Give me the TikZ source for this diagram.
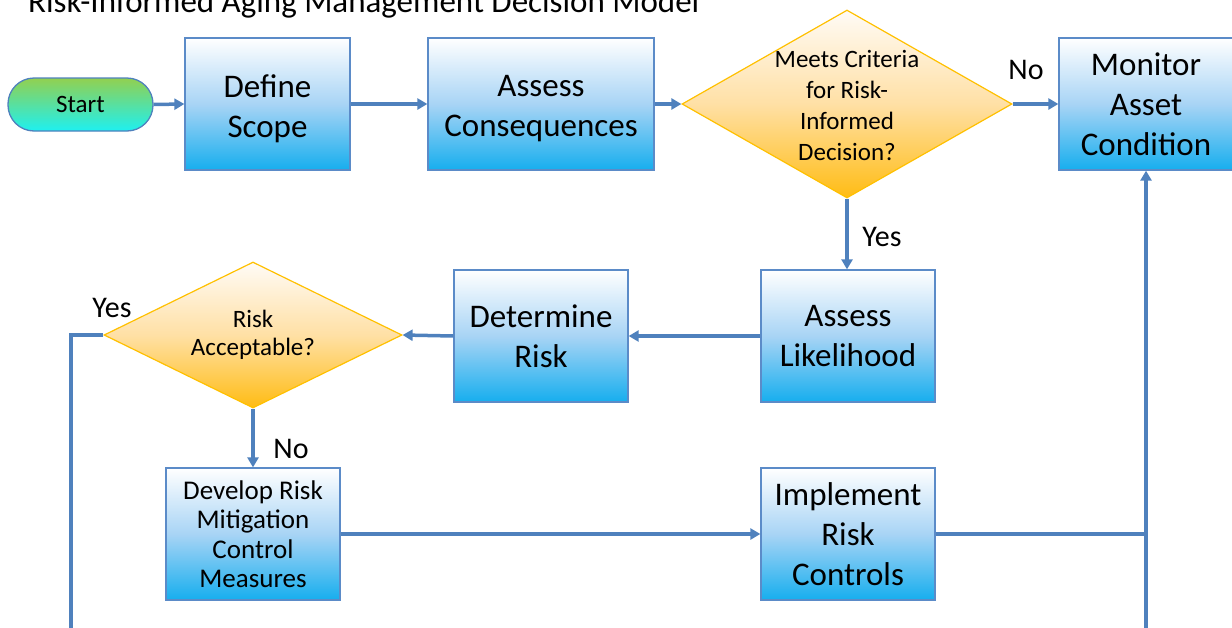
\documentclass[tikz,border=0pt]{standalone}
\usepackage{fontspec}
\setmainfont{Carlito}
\usetikzlibrary{shapes.geometric,arrows.meta}
\definecolor{conn}{RGB}{79,129,189}
\definecolor{boxborder}{RGB}{91,139,200}
\definecolor{boxbot}{RGB}{22,174,238}
\definecolor{boxmid}{RGB}{168,212,245}
\definecolor{diaborder}{RGB}{255,192,0}
\definecolor{diabot}{RGB}{255,188,20}
\definecolor{diamid}{RGB}{255,224,165}
\definecolor{diatop}{RGB}{255,251,246}
\definecolor{startop}{RGB}{146,208,80}
\definecolor{startbot}{RGB}{30,240,240}
\begin{document}
\begin{tikzpicture}[x=1pt,y=-1pt,
  boxtext/.style={align=center, inner sep=0pt, text=black, font=\fontsize{33}{40}\selectfont},
  box/.style={boxtext, draw=boxborder, line width=1.3pt, top color=white, bottom color=boxbot, middle color=boxmid,
    minimum height=132pt},
  dia/.style={diamond, draw=diaborder, line width=1.2pt, top color=diatop, bottom color=diabot, middle color=diamid, inner sep=0pt},
  diatext/.style={align=center, inner sep=0pt, font=\fontsize{25}{31}\selectfont},
  startnode/.style={draw=conn, line width=1.3pt, rounded corners=26pt, top color=startop, bottom color=startbot,
    minimum width=145pt, minimum height=53pt, inner sep=0pt, font=\fontsize{25}{30}\selectfont},
  lab/.style={inner sep=0pt, font=\fontsize{30}{36}\selectfont},
  link/.style={draw=conn, line width=3.5pt},
  conn/.style={link, -{Triangle[length=10pt,width=11pt]}}
]
\useasboundingbox (0,0) rectangle (1232,627);
\clip (0,0) rectangle (1232,627);

\node[anchor=base west, inner sep=0pt, font=\fontsize{33}{40}\selectfont] (title) at (28,12) {Risk-Informed Aging Management Decision Model};

\node[startnode] (start) at (80.5,104.5) {Start};
\node[box, minimum width=165pt] (define) at (267.5,104) {};
\node[boxtext] (definet) at (267.5,108.5) {Define\\Scope};
\node[box, minimum width=226pt] (assess) at (541,104) {};
\node[boxtext] (assesst) at (541,108.5) {Assess\\Consequences};
\node[dia, minimum width=330pt, minimum height=188pt] (d1) at (847,104) {};
\node[diatext] (d1t) at (847,105.5) {Meets Criteria\\for Risk-\\Informed\\Decision?};
\node[box, minimum width=174pt] (monitor) at (1146,104) {Monitor\\Asset\\Condition};
\node[box, minimum width=174pt] (likely) at (848,336) {Assess\\Likelihood};
\node[box, minimum width=174pt] (determine) at (541,336) {Determine\\Risk};
\node[dia, minimum width=298pt, minimum height=146pt] (d2) at (253,335) {};
\node[diatext, font=\fontsize{25}{28}\selectfont] (d2t) at (253,335) {Risk\\Acceptable?};
\node[box, minimum width=174pt, font=\fontsize{27}{29.5}\selectfont] (develop) at (253,534) {Develop Risk\\Mitigation\\Control\\Measures};
\node[box, minimum width=174pt] (implement) at (848,534) {Implement\\Risk\\Controls};

\node[lab] (no1) at (1026,70) {No};
\node[lab] (yes1) at (882,237) {Yes};
\node[lab] (yes2) at (112,308) {Yes};
\node[lab] (no2) at (291,449) {No};

\coordinate (yesend) at (71,660);
\coordinate (join) at (1146,534);
\coordinate (bot) at (1146,660);

\draw[conn] (start.east) -- (define.west);
\draw[conn] (define.east) -- (assess.west);
\draw[conn] (assess.east) -- (d1.west);
\draw[conn] (d1.east) -- (monitor.west);
\draw[conn] (d1.south) -- (d1.south |- likely.north);
\draw[conn] (likely.west) -- (determine.east);
\draw[conn] (determine.west) -- (d2.east);
\draw[conn] (d2.south) -- (develop.north);
\draw[link] (d2.west) -| (yesend);
\draw[conn] (develop.east) -- (implement.west);
\draw[link] (implement.east) -- (join);
\draw[conn] (bot) -- (monitor.south);
\end{tikzpicture}
\end{document}
